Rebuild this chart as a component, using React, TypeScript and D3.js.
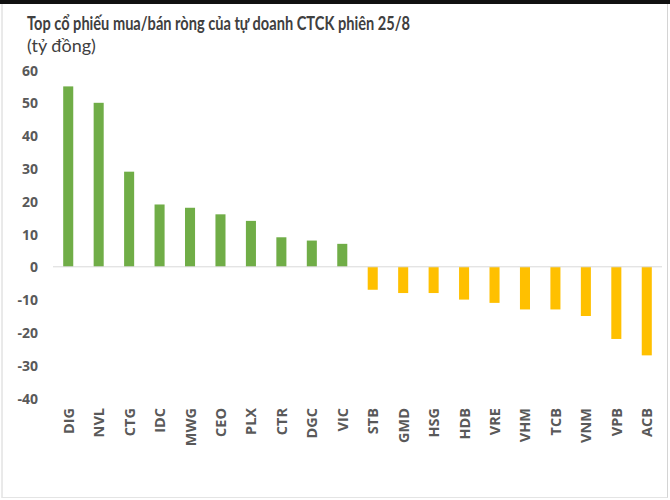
import React from "react";
import * as d3 from "d3";

const categories = ["DIG","NVL","CTG","IDC","MWG","CEO","PLX","CTR","DGC","VIC","STB","GMD","HSG","HDB","VRE","VHM","TCB","VNM","VPB","ACB"];
const values = [55,50,29,19,18,16,14,9,8,7,-7,-8,-8,-10,-11,-13,-13,-15,-22,-27];
const yTicks = [60,50,40,30,20,10,0,-10,-20,-30,-40];
const title = "Top cổ phiếu mua/bán ròng của tự doanh CTCK phiên 25/8";
const subtitle = "(tỷ đồng)";

const W = 670, H = 500;

export default function App() {
  const x = d3.scaleBand<string>().domain(categories).range([53, 662]).padding(0);
  const y = d3.scaleLinear().domain([-40, 60]).range([398, 70]);
  const bw = x.bandwidth() * 0.33;
  const textColor = "#595959";
  return (
    <svg width={W} height={H} style={{ position: "absolute", left: 0, top: 0, background: "#fff" }}>
      <rect x={0} y={0} width={W} height={H} fill="#fff" />
      <rect x={0} y={0} width={W} height={4} fill="#111" />
      <line x1={2} x2={2} y1={4} y2={498} stroke="#d4d4d4" strokeWidth={1} />
      <line x1={667.5} x2={667.5} y1={4} y2={498} stroke="#d4d4d4" strokeWidth={1} />
      <line x1={2} x2={667.5} y1={497.5} y2={497.5} stroke="#e4e4e4" strokeWidth={1} />
      <text x={27} y={30} textLength={383} lengthAdjust="spacingAndGlyphs" fontFamily="Lato, 'Open Sans', sans-serif" fontWeight="bold" fontSize={18.5} fill="#404040">{title}</text>
      <text x={27} y={52} fontFamily="Lato, 'Open Sans', sans-serif" fontSize={18} fill="#404040">{subtitle}</text>
      {yTicks.map((t) => (
        <text key={t} x={38} y={y(t)} textAnchor="end" dominantBaseline="central" fontFamily="'Open Sans', sans-serif" fontWeight="bold" fontSize={14} fill={textColor}>{t}</text>
      ))}
      {categories.map((c, i) => {
        const v = values[i];
        const cx = (x(c) as number) + x.bandwidth() / 2;
        return (
          <rect key={c} x={cx - bw / 2} width={bw} y={Math.min(y(v), y(0))} height={Math.abs(y(v) - y(0))} fill={v >= 0 ? "#70AD47" : "#FFC000"} />
        );
      })}
      <line x1={53} x2={662} y1={y(0)} y2={y(0)} stroke="#d9d9d9" strokeWidth={1} />
      {categories.map((c) => {
        const cx = (x(c) as number) + x.bandwidth() / 2;
        return (
          <text key={c} transform={`translate(${cx},408) rotate(-90)`} textAnchor="end" dominantBaseline="central" fontFamily="'Open Sans', sans-serif" fontWeight="bold" fontSize={14.5} fill={textColor}>{c}</text>
        );
      })}
    </svg>
  );
}
